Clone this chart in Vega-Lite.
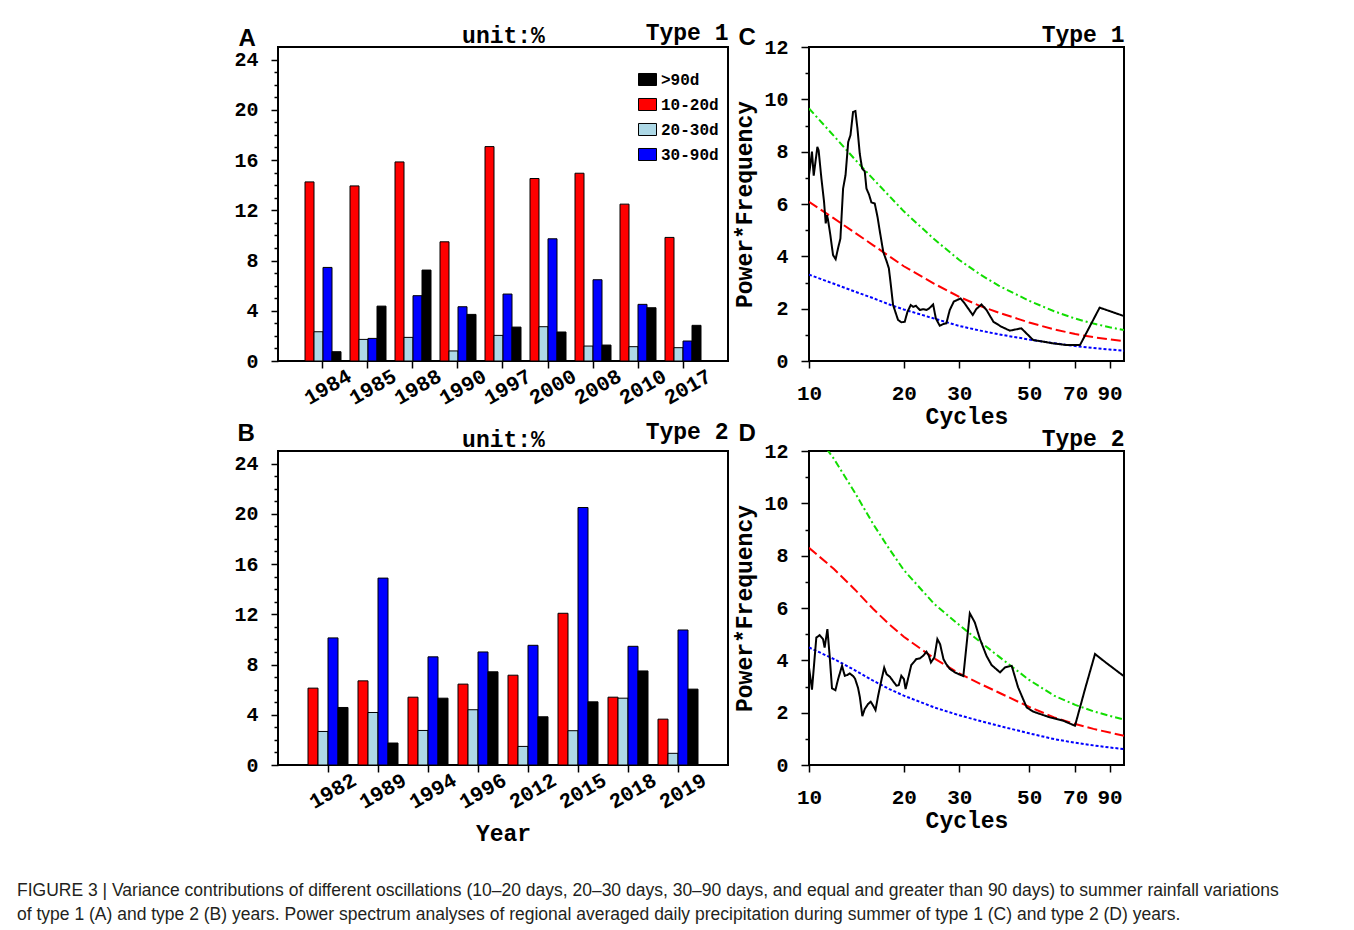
{
"$schema": "https://vega.github.io/schema/vega-lite/v6.json",
"padding": {"left": 17, "top": 20, "right": 10, "bottom": 10},
"background": "white",
"title": {
  "text": ["FIGURE 3 | Variance contributions of different oscillations (10–20 days, 20–30 days, 30–90 days, and equal and greater than 90 days) to summer rainfall variations", "of type 1 (A) and type 2 (B) years. Power spectrum analyses of regional averaged daily precipitation during summer of type 1 (C) and type 2 (D) years."],
  "orient": "bottom", "anchor": "start", "frame": "group", "dx": -261, "offset": 36,
  "font": "Liberation Sans", "fontSize": 17.5, "fontWeight": "normal", "color": "#231f20", "lineHeight": 24
},
"datasets": {
  "typeA": [
    {"year": "1984", "period": "10-20d", "value": 14.26}, {"year": "1984", "period": "20-30d", "value": 2.33}, {"year": "1984", "period": "30-90d", "value": 7.45}, {"year": "1984", "period": ">90d", "value": 0.74},
    {"year": "1985", "period": "10-20d", "value": 13.94}, {"year": "1985", "period": "20-30d", "value": 1.72}, {"year": "1985", "period": "30-90d", "value": 1.80}, {"year": "1985", "period": ">90d", "value": 4.37},
    {"year": "1988", "period": "10-20d", "value": 15.85}, {"year": "1988", "period": "20-30d", "value": 1.88}, {"year": "1988", "period": "30-90d", "value": 5.20}, {"year": "1988", "period": ">90d", "value": 7.24},
    {"year": "1990", "period": "10-20d", "value": 9.49}, {"year": "1990", "period": "20-30d", "value": 0.80}, {"year": "1990", "period": "30-90d", "value": 4.32}, {"year": "1990", "period": ">90d", "value": 3.71},
    {"year": "1997", "period": "10-20d", "value": 17.07}, {"year": "1997", "period": "20-30d", "value": 2.04}, {"year": "1997", "period": "30-90d", "value": 5.33}, {"year": "1997", "period": ">90d", "value": 2.70},
    {"year": "2000", "period": "10-20d", "value": 14.53}, {"year": "2000", "period": "20-30d", "value": 2.73}, {"year": "2000", "period": "30-90d", "value": 9.73}, {"year": "2000", "period": ">90d", "value": 2.31},
    {"year": "2008", "period": "10-20d", "value": 14.95}, {"year": "2008", "period": "20-30d", "value": 1.19}, {"year": "2008", "period": "30-90d", "value": 6.47}, {"year": "2008", "period": ">90d", "value": 1.27},
    {"year": "2010", "period": "10-20d", "value": 12.49}, {"year": "2010", "period": "20-30d", "value": 1.14}, {"year": "2010", "period": "30-90d", "value": 4.51}, {"year": "2010", "period": ">90d", "value": 4.24},
    {"year": "2017", "period": "10-20d", "value": 9.84}, {"year": "2017", "period": "20-30d", "value": 1.06}, {"year": "2017", "period": "30-90d", "value": 1.59}, {"year": "2017", "period": ">90d", "value": 2.84}
  ],
  "typeB": [
    {"year": "1982", "period": "10-20d", "value": 6.12}, {"year": "1982", "period": "20-30d", "value": 2.67}, {"year": "1982", "period": "30-90d", "value": 10.12}, {"year": "1982", "period": ">90d", "value": 4.58},
    {"year": "1989", "period": "10-20d", "value": 6.70}, {"year": "1989", "period": "20-30d", "value": 4.18}, {"year": "1989", "period": "30-90d", "value": 14.88}, {"year": "1989", "period": ">90d", "value": 1.75},
    {"year": "1994", "period": "10-20d", "value": 5.40}, {"year": "1994", "period": "20-30d", "value": 2.75}, {"year": "1994", "period": "30-90d", "value": 8.61}, {"year": "1994", "period": ">90d", "value": 5.32},
    {"year": "1996", "period": "10-20d", "value": 6.44}, {"year": "1996", "period": "20-30d", "value": 4.40}, {"year": "1996", "period": "30-90d", "value": 9.00}, {"year": "1996", "period": ">90d", "value": 7.42},
    {"year": "2012", "period": "10-20d", "value": 7.15}, {"year": "2012", "period": "20-30d", "value": 1.48}, {"year": "2012", "period": "30-90d", "value": 9.53}, {"year": "2012", "period": ">90d", "value": 3.84},
    {"year": "2015", "period": "10-20d", "value": 12.08}, {"year": "2015", "period": "20-30d", "value": 2.73}, {"year": "2015", "period": "30-90d", "value": 20.50}, {"year": "2015", "period": ">90d", "value": 5.03},
    {"year": "2018", "period": "10-20d", "value": 5.40}, {"year": "2018", "period": "20-30d", "value": 5.32}, {"year": "2018", "period": "30-90d", "value": 9.45}, {"year": "2018", "period": ">90d", "value": 7.49},
    {"year": "2019", "period": "10-20d", "value": 3.65}, {"year": "2019", "period": "20-30d", "value": 0.93}, {"year": "2019", "period": "30-90d", "value": 10.75}, {"year": "2019", "period": ">90d", "value": 6.04}
  ],
  "specC": [
    {"series": "p99", "cycles": 10, "value": 9.65}, {"series": "p99", "cycles": 12, "value": 8.6}, {"series": "p99", "cycles": 14, "value": 7.7}, {"series": "p99", "cycles": 16, "value": 6.95}, {"series": "p99", "cycles": 18, "value": 6.3}, {"series": "p99", "cycles": 20, "value": 5.72}, {"series": "p99", "cycles": 25, "value": 4.65}, {"series": "p99", "cycles": 30, "value": 3.86}, {"series": "p99", "cycles": 35, "value": 3.3}, {"series": "p99", "cycles": 40, "value": 2.88}, {"series": "p99", "cycles": 50, "value": 2.3}, {"series": "p99", "cycles": 60, "value": 1.9}, {"series": "p99", "cycles": 70, "value": 1.62}, {"series": "p99", "cycles": 80, "value": 1.43}, {"series": "p99", "cycles": 90, "value": 1.29}, {"series": "p99", "cycles": 100, "value": 1.18},
    {"series": "p95", "cycles": 10, "value": 6.08}, {"series": "p95", "cycles": 12, "value": 5.45}, {"series": "p95", "cycles": 14, "value": 4.9}, {"series": "p95", "cycles": 16, "value": 4.42}, {"series": "p95", "cycles": 18, "value": 4.0}, {"series": "p95", "cycles": 20, "value": 3.62}, {"series": "p95", "cycles": 25, "value": 2.95}, {"series": "p95", "cycles": 30, "value": 2.45}, {"series": "p95", "cycles": 35, "value": 2.1}, {"series": "p95", "cycles": 40, "value": 1.85}, {"series": "p95", "cycles": 50, "value": 1.47}, {"series": "p95", "cycles": 60, "value": 1.21}, {"series": "p95", "cycles": 70, "value": 1.03}, {"series": "p95", "cycles": 80, "value": 0.91}, {"series": "p95", "cycles": 90, "value": 0.83}, {"series": "p95", "cycles": 100, "value": 0.76},
    {"series": "red noise", "cycles": 10, "value": 3.3}, {"series": "red noise", "cycles": 12, "value": 2.95}, {"series": "red noise", "cycles": 14, "value": 2.65}, {"series": "red noise", "cycles": 16, "value": 2.4}, {"series": "red noise", "cycles": 18, "value": 2.16}, {"series": "red noise", "cycles": 20, "value": 1.97}, {"series": "red noise", "cycles": 25, "value": 1.62}, {"series": "red noise", "cycles": 30, "value": 1.34}, {"series": "red noise", "cycles": 35, "value": 1.16}, {"series": "red noise", "cycles": 40, "value": 1.02}, {"series": "red noise", "cycles": 50, "value": 0.82}, {"series": "red noise", "cycles": 60, "value": 0.68}, {"series": "red noise", "cycles": 70, "value": 0.57}, {"series": "red noise", "cycles": 80, "value": 0.5}, {"series": "red noise", "cycles": 90, "value": 0.44}, {"series": "red noise", "cycles": 100, "value": 0.39},
    {"series": "spectrum", "cycles": 10.0, "value": 7.1}, {"series": "spectrum", "cycles": 10.22, "value": 8.0}, {"series": "spectrum", "cycles": 10.35, "value": 7.08}, {"series": "spectrum", "cycles": 10.63, "value": 8.18}, {"series": "spectrum", "cycles": 10.73, "value": 8.05}, {"series": "spectrum", "cycles": 10.95, "value": 6.97}, {"series": "spectrum", "cycles": 11.16, "value": 6.1}, {"series": "spectrum", "cycles": 11.3, "value": 5.26}, {"series": "spectrum", "cycles": 11.41, "value": 5.57}, {"series": "spectrum", "cycles": 11.49, "value": 5.4}, {"series": "spectrum", "cycles": 11.69, "value": 4.81}, {"series": "spectrum", "cycles": 11.92, "value": 4.05}, {"series": "spectrum", "cycles": 12.15, "value": 3.89}, {"series": "spectrum", "cycles": 12.36, "value": 4.3}, {"series": "spectrum", "cycles": 12.58, "value": 4.68}, {"series": "spectrum", "cycles": 12.83, "value": 6.59}, {"series": "spectrum", "cycles": 13.06, "value": 7.1}, {"series": "spectrum", "cycles": 13.32, "value": 8.37}, {"series": "spectrum", "cycles": 13.54, "value": 8.63}, {"series": "spectrum", "cycles": 13.8, "value": 9.52}, {"series": "spectrum", "cycles": 14.04, "value": 9.55}, {"series": "spectrum", "cycles": 14.25, "value": 8.88}, {"series": "spectrum", "cycles": 14.49, "value": 7.93}, {"series": "spectrum", "cycles": 14.74, "value": 7.36}, {"series": "spectrum", "cycles": 15.03, "value": 7.25}, {"series": "spectrum", "cycles": 15.22, "value": 6.59}, {"series": "spectrum", "cycles": 15.51, "value": 6.36}, {"series": "spectrum", "cycles": 15.78, "value": 6.06}, {"series": "spectrum", "cycles": 16.17, "value": 6.02}, {"series": "spectrum", "cycles": 16.5, "value": 5.51}, {"series": "spectrum", "cycles": 16.79, "value": 4.94}, {"series": "spectrum", "cycles": 17.21, "value": 4.17}, {"series": "spectrum", "cycles": 17.66, "value": 3.79}, {"series": "spectrum", "cycles": 17.93, "value": 3.54}, {"series": "spectrum", "cycles": 18.19, "value": 2.9}, {"series": "spectrum", "cycles": 18.49, "value": 2.14}, {"series": "spectrum", "cycles": 19.17, "value": 1.57}, {"series": "spectrum", "cycles": 19.64, "value": 1.48}, {"series": "spectrum", "cycles": 20.13, "value": 1.5}, {"series": "spectrum", "cycles": 20.54, "value": 1.88}, {"series": "spectrum", "cycles": 21.04, "value": 2.14}, {"series": "spectrum", "cycles": 21.42, "value": 2.07}, {"series": "spectrum", "cycles": 21.85, "value": 2.11}, {"series": "spectrum", "cycles": 22.48, "value": 1.95}, {"series": "spectrum", "cycles": 23.04, "value": 1.98}, {"series": "spectrum", "cycles": 23.6, "value": 1.95}, {"series": "spectrum", "cycles": 24.06, "value": 2.01}, {"series": "spectrum", "cycles": 24.78, "value": 2.16}, {"series": "spectrum", "cycles": 25.27, "value": 1.63}, {"series": "spectrum", "cycles": 26.0, "value": 1.35}, {"series": "spectrum", "cycles": 26.66, "value": 1.41}, {"series": "spectrum", "cycles": 27.29, "value": 1.44}, {"series": "spectrum", "cycles": 27.98, "value": 1.95}, {"series": "spectrum", "cycles": 28.82, "value": 2.27}, {"series": "spectrum", "cycles": 29.77, "value": 2.35}, {"series": "spectrum", "cycles": 30.3, "value": 2.39}, {"series": "spectrum", "cycles": 31.2, "value": 2.2}, {"series": "spectrum", "cycles": 33.1, "value": 1.76}, {"series": "spectrum", "cycles": 34.0, "value": 1.99}, {"series": "spectrum", "cycles": 35.3, "value": 2.16}, {"series": "spectrum", "cycles": 36.6, "value": 1.95}, {"series": "spectrum", "cycles": 38.5, "value": 1.5}, {"series": "spectrum", "cycles": 40.8, "value": 1.31}, {"series": "spectrum", "cycles": 43.4, "value": 1.16}, {"series": "spectrum", "cycles": 47.2, "value": 1.25}, {"series": "spectrum", "cycles": 51.5, "value": 0.8}, {"series": "spectrum", "cycles": 55.5, "value": 0.74}, {"series": "spectrum", "cycles": 59.8, "value": 0.67}, {"series": "spectrum", "cycles": 65.6, "value": 0.61}, {"series": "spectrum", "cycles": 72.5, "value": 0.61}, {"series": "spectrum", "cycles": 83.7, "value": 2.04}, {"series": "spectrum", "cycles": 99.8, "value": 1.72}
  ],
  "specD": [
    {"series": "p99", "cycles": 10, "value": 13.0}, {"series": "p99", "cycles": 12, "value": 11.7}, {"series": "p99", "cycles": 14, "value": 10.4}, {"series": "p99", "cycles": 16, "value": 9.2}, {"series": "p99", "cycles": 18, "value": 8.25}, {"series": "p99", "cycles": 20, "value": 7.45}, {"series": "p99", "cycles": 25, "value": 6.15}, {"series": "p99", "cycles": 30, "value": 5.35}, {"series": "p99", "cycles": 35, "value": 4.7}, {"series": "p99", "cycles": 40, "value": 4.15}, {"series": "p99", "cycles": 50, "value": 3.25}, {"series": "p99", "cycles": 60, "value": 2.65}, {"series": "p99", "cycles": 70, "value": 2.3}, {"series": "p99", "cycles": 80, "value": 2.05}, {"series": "p99", "cycles": 90, "value": 1.88}, {"series": "p99", "cycles": 100, "value": 1.74},
    {"series": "p95", "cycles": 10, "value": 8.3}, {"series": "p95", "cycles": 12, "value": 7.49}, {"series": "p95", "cycles": 14, "value": 6.7}, {"series": "p95", "cycles": 16, "value": 5.96}, {"series": "p95", "cycles": 18, "value": 5.37}, {"series": "p95", "cycles": 20, "value": 4.9}, {"series": "p95", "cycles": 25, "value": 4.07}, {"series": "p95", "cycles": 30, "value": 3.5}, {"series": "p95", "cycles": 35, "value": 3.1}, {"series": "p95", "cycles": 40, "value": 2.77}, {"series": "p95", "cycles": 50, "value": 2.22}, {"series": "p95", "cycles": 60, "value": 1.82}, {"series": "p95", "cycles": 70, "value": 1.57}, {"series": "p95", "cycles": 80, "value": 1.38}, {"series": "p95", "cycles": 90, "value": 1.24}, {"series": "p95", "cycles": 100, "value": 1.12},
    {"series": "red noise", "cycles": 10, "value": 4.49}, {"series": "red noise", "cycles": 12, "value": 4.05}, {"series": "red noise", "cycles": 14, "value": 3.62}, {"series": "red noise", "cycles": 16, "value": 3.22}, {"series": "red noise", "cycles": 18, "value": 2.9}, {"series": "red noise", "cycles": 20, "value": 2.65}, {"series": "red noise", "cycles": 25, "value": 2.2}, {"series": "red noise", "cycles": 30, "value": 1.9}, {"series": "red noise", "cycles": 35, "value": 1.68}, {"series": "red noise", "cycles": 40, "value": 1.5}, {"series": "red noise", "cycles": 50, "value": 1.21}, {"series": "red noise", "cycles": 60, "value": 0.99}, {"series": "red noise", "cycles": 70, "value": 0.85}, {"series": "red noise", "cycles": 80, "value": 0.75}, {"series": "red noise", "cycles": 90, "value": 0.67}, {"series": "red noise", "cycles": 100, "value": 0.61},
    {"series": "spectrum", "cycles": 10.0, "value": 3.73}, {"series": "spectrum", "cycles": 10.22, "value": 2.88}, {"series": "spectrum", "cycles": 10.55, "value": 4.87}, {"series": "spectrum", "cycles": 10.81, "value": 4.96}, {"series": "spectrum", "cycles": 11.08, "value": 4.81}, {"series": "spectrum", "cycles": 11.21, "value": 4.49}, {"series": "spectrum", "cycles": 11.44, "value": 5.19}, {"series": "spectrum", "cycles": 11.63, "value": 4.17}, {"series": "spectrum", "cycles": 11.83, "value": 2.93}, {"series": "spectrum", "cycles": 12.13, "value": 2.86}, {"series": "spectrum", "cycles": 12.37, "value": 3.28}, {"series": "spectrum", "cycles": 12.73, "value": 3.79}, {"series": "spectrum", "cycles": 12.99, "value": 3.41}, {"series": "spectrum", "cycles": 13.24, "value": 3.44}, {"series": "spectrum", "cycles": 13.47, "value": 3.5}, {"series": "spectrum", "cycles": 13.8, "value": 3.4}, {"series": "spectrum", "cycles": 14.0, "value": 3.3}, {"series": "spectrum", "cycles": 14.31, "value": 2.95}, {"series": "spectrum", "cycles": 14.5, "value": 2.6}, {"series": "spectrum", "cycles": 14.77, "value": 1.87}, {"series": "spectrum", "cycles": 15.03, "value": 2.14}, {"series": "spectrum", "cycles": 15.4, "value": 2.33}, {"series": "spectrum", "cycles": 15.7, "value": 2.42}, {"series": "spectrum", "cycles": 15.98, "value": 2.27}, {"series": "spectrum", "cycles": 16.26, "value": 2.1}, {"series": "spectrum", "cycles": 16.58, "value": 2.65}, {"series": "spectrum", "cycles": 16.99, "value": 3.26}, {"series": "spectrum", "cycles": 17.33, "value": 3.72}, {"series": "spectrum", "cycles": 17.63, "value": 3.47}, {"series": "spectrum", "cycles": 18.07, "value": 3.37}, {"series": "spectrum", "cycles": 18.52, "value": 3.19}, {"series": "spectrum", "cycles": 18.95, "value": 3.03}, {"series": "spectrum", "cycles": 19.27, "value": 3.05}, {"series": "spectrum", "cycles": 19.64, "value": 3.41}, {"series": "spectrum", "cycles": 20.02, "value": 3.28}, {"series": "spectrum", "cycles": 20.26, "value": 2.9}, {"series": "spectrum", "cycles": 20.61, "value": 3.28}, {"series": "spectrum", "cycles": 21.12, "value": 3.82}, {"series": "spectrum", "cycles": 21.92, "value": 4.05}, {"series": "spectrum", "cycles": 22.47, "value": 4.07}, {"series": "spectrum", "cycles": 23.02, "value": 4.17}, {"series": "spectrum", "cycles": 23.6, "value": 4.33}, {"series": "spectrum", "cycles": 24.02, "value": 4.17}, {"series": "spectrum", "cycles": 24.38, "value": 3.92}, {"series": "spectrum", "cycles": 25.0, "value": 4.11}, {"series": "spectrum", "cycles": 25.56, "value": 4.81}, {"series": "spectrum", "cycles": 26.07, "value": 4.62}, {"series": "spectrum", "cycles": 26.72, "value": 4.05}, {"series": "spectrum", "cycles": 27.26, "value": 3.86}, {"series": "spectrum", "cycles": 28.0, "value": 3.67}, {"series": "spectrum", "cycles": 29.06, "value": 3.54}, {"series": "spectrum", "cycles": 30.3, "value": 3.44}, {"series": "spectrum", "cycles": 30.9, "value": 3.4}, {"series": "spectrum", "cycles": 32.4, "value": 5.8}, {"series": "spectrum", "cycles": 33.6, "value": 5.45}, {"series": "spectrum", "cycles": 34.9, "value": 4.81}, {"series": "spectrum", "cycles": 36.6, "value": 4.17}, {"series": "spectrum", "cycles": 37.98, "value": 3.82}, {"series": "spectrum", "cycles": 40.4, "value": 3.54}, {"series": "spectrum", "cycles": 41.9, "value": 3.73}, {"series": "spectrum", "cycles": 44.0, "value": 3.79}, {"series": "spectrum", "cycles": 46.1, "value": 2.97}, {"series": "spectrum", "cycles": 49.1, "value": 2.2}, {"series": "spectrum", "cycles": 51.5, "value": 2.04}, {"series": "spectrum", "cycles": 58.2, "value": 1.82}, {"series": "spectrum", "cycles": 64.2, "value": 1.69}, {"series": "spectrum", "cycles": 69.9, "value": 1.5}, {"series": "spectrum", "cycles": 75.2, "value": 2.9}, {"series": "spectrum", "cycles": 80.9, "value": 4.24}, {"series": "spectrum", "cycles": 88.1, "value": 3.89}, {"series": "spectrum", "cycles": 99.5, "value": 3.41}
  ]
},
"columns": 2,
"spacing": {"row": 90, "column": 81},
"bounds": "flush",
"concat": [
  {
    "width": 450, "height": 314,
    "data": {"name": "typeA"},
    "layer": [
      {
        "mark": {"type": "bar", "stroke": "black", "strokeWidth": 1},
        "encoding": {
          "x": {"field": "year", "type": "nominal", "scale": {"paddingInner": 0.2, "paddingOuter": 0.6},
                "axis": {"title": null, "labelAngle": -30, "labelAlign": "center", "labelBaseline": "middle", "labelPadding": 19, "labelOffset": 5, "tickSize": 7, "labelFontSize": 21}},
          "xOffset": {"field": "period", "type": "nominal", "scale": {"domain": ["10-20d", "20-30d", "30-90d", ">90d"], "paddingInner": 0, "paddingOuter": 0}},
          "y": {"field": "value", "type": "quantitative", "scale": {"domain": [0, 25], "nice": false},
                "axis": {"values": [0,1,2,3,4,5,6,7,8,9,10,11,12,13,14,15,16,17,18,19,20,21,22,23,24], "labelExpr": "datum.value % 4 === 0 ? datum.label : ''",
                         "tickSize": {"condition": {"test": "datum.value % 4 === 0", "value": 7}, "value": 4}, "labelPadding": 13,
                         "title": "A", "titleX": -40, "titleY": -2, "titleAngle": 0, "titleAlign": "left", "titleBaseline": "alphabetic", "titleFont": "Liberation Sans", "titleFontSize": 24}},
          "color": {"field": "period", "type": "nominal", "scale": {"domain": [">90d", "10-20d", "20-30d", "30-90d"], "range": ["#000000", "#ff0000", "#add8e6", "#0000ff"]},
                    "legend": {"orient": "none", "legendX": 360, "legendY": 23, "title": null, "symbolType": "M-1,-0.667H1V0.667H-1Z", "symbolSize": 324, "symbolStrokeColor": "black", "symbolStrokeWidth": 1, "labelFont": "Liberation Mono", "labelFontWeight": "bold", "labelFontSize": 16, "labelColor": "black", "labelOffset": 4, "rowPadding": 7, "padding": 0}}
        }
      },
      {
        "mark": {"type": "point", "opacity": 0},
        "encoding": {
          "x": {"field": "year", "type": "nominal", "axis": {"orient": "top", "labels": false, "ticks": false, "title": "Type 1", "titleX": 450, "titleY": -8, "titleAngle": 0, "titleAlign": "right", "titleBaseline": "alphabetic"}},
          "y": {"field": "value", "type": "quantitative", "axis": {"orient": "right", "labels": false, "ticks": false, "title": "unit:%", "titleX": -225, "titleY": -5, "titleAngle": 0, "titleAlign": "center", "titleBaseline": "alphabetic"}}
        }
      }
    ],
    "resolve": {"axis": {"x": "independent", "y": "independent"}}
  },
  {
    "width": 315, "height": 314,
    "data": {"name": "specC"},
    "layer": [
      {
        "mark": {"type": "line", "clip": true, "strokeWidth": 2},
        "encoding": {
          "x": {"field": "cycles", "type": "quantitative", "scale": {"type": "log", "domain": [10, 100], "nice": false},
                "axis": {"values": [10, 20, 30, 50, 70, 90], "format": "d", "tickSize": 7, "labelPadding": 14, "labelFontSize": 21, "title": "Cycles", "titleY": 62, "titleBaseline": "alphabetic", "titleAnchor": "middle"}},
          "y": {"field": "value", "type": "quantitative", "scale": {"domain": [0, 12], "nice": false},
                "axis": {"values": [0,0.5,1,1.5,2,2.5,3,3.5,4,4.5,5,5.5,6,6.5,7,7.5,8,8.5,9,9.5,10,10.5,11,11.5,12], "format": "d", "labelExpr": "datum.value % 2 === 0 ? datum.label : ''",
                         "tickSize": {"condition": {"test": "datum.value % 2 === 0", "value": 8}, "value": 4}, "labelPadding": 13,
                         "title": "Power*Frequency", "titleX": -65, "titleY": 157, "titleAngle": -90, "titleAlign": "center", "titleBaseline": "middle"}},
          "color": {"field": "series", "type": "nominal", "scale": {"domain": ["spectrum", "p99", "p95", "red noise"], "range": ["#000000", "#11dd00", "#ff0000", "#0000ff"]}, "legend": null},
          "strokeDash": {"field": "series", "type": "nominal", "scale": {"domain": ["spectrum", "p99", "p95", "red noise"], "range": [[1, 0], [7, 3, 2, 3], [10, 4], [3, 2]]}, "legend": null}
        }
      },
      {
        "mark": {"type": "point", "opacity": 0},
        "encoding": {
          "x": {"field": "cycles", "type": "quantitative", "axis": {"orient": "top", "labels": false, "ticks": false, "title": "Type 1", "titleX": 315, "titleY": -6, "titleAngle": 0, "titleAlign": "right", "titleBaseline": "alphabetic"}},
          "y": {"field": "value", "type": "quantitative", "axis": {"orient": "right", "labels": false, "ticks": false, "title": "C", "titleX": -386, "titleY": -3, "titleAngle": 0, "titleAlign": "left", "titleBaseline": "alphabetic", "titleFont": "Liberation Sans", "titleFontSize": 24}}
        }
      }
    ],
    "resolve": {"axis": {"x": "independent", "y": "independent"}}
  },
  {
    "width": 450, "height": 314,
    "data": {"name": "typeB"},
    "layer": [
      {
        "mark": {"type": "bar", "stroke": "black", "strokeWidth": 1},
        "encoding": {
          "x": {"field": "year", "type": "nominal", "scale": {"paddingInner": 0.2, "paddingOuter": 0.6},
                "axis": {"title": "Year", "titleY": 75, "titleBaseline": "alphabetic", "labelAngle": -30, "labelAlign": "center", "labelBaseline": "middle", "labelPadding": 19, "labelOffset": 5, "tickSize": 7, "labelFontSize": 21}},
          "xOffset": {"field": "period", "type": "nominal", "scale": {"domain": ["10-20d", "20-30d", "30-90d", ">90d"], "paddingInner": 0, "paddingOuter": 0}},
          "y": {"field": "value", "type": "quantitative", "scale": {"domain": [0, 25], "nice": false},
                "axis": {"values": [0,1,2,3,4,5,6,7,8,9,10,11,12,13,14,15,16,17,18,19,20,21,22,23,24], "labelExpr": "datum.value % 4 === 0 ? datum.label : ''",
                         "tickSize": {"condition": {"test": "datum.value % 4 === 0", "value": 7}, "value": 4}, "labelPadding": 13,
                         "title": "B", "titleX": -41, "titleY": -11, "titleAngle": 0, "titleAlign": "left", "titleBaseline": "alphabetic", "titleFont": "Liberation Sans", "titleFontSize": 24}},
          "color": {"field": "period", "type": "nominal", "scale": {"domain": [">90d", "10-20d", "20-30d", "30-90d"], "range": ["#000000", "#ff0000", "#add8e6", "#0000ff"]}, "legend": null}
        }
      },
      {
        "mark": {"type": "point", "opacity": 0},
        "encoding": {
          "x": {"field": "year", "type": "nominal", "axis": {"orient": "top", "labels": false, "ticks": false, "title": "Type 2", "titleX": 450, "titleY": -13, "titleAngle": 0, "titleAlign": "right", "titleBaseline": "alphabetic"}},
          "y": {"field": "value", "type": "quantitative", "axis": {"orient": "right", "labels": false, "ticks": false, "title": "unit:%", "titleX": -225, "titleY": -5, "titleAngle": 0, "titleAlign": "center", "titleBaseline": "alphabetic"}}
        }
      }
    ],
    "resolve": {"axis": {"x": "independent", "y": "independent"}}
  },
  {
    "width": 315, "height": 314,
    "data": {"name": "specD"},
    "layer": [
      {
        "mark": {"type": "line", "clip": true, "strokeWidth": 2},
        "encoding": {
          "x": {"field": "cycles", "type": "quantitative", "scale": {"type": "log", "domain": [10, 100], "nice": false},
                "axis": {"values": [10, 20, 30, 50, 70, 90], "format": "d", "tickSize": 7, "labelPadding": 14, "labelFontSize": 21, "title": "Cycles", "titleY": 62, "titleBaseline": "alphabetic", "titleAnchor": "middle"}},
          "y": {"field": "value", "type": "quantitative", "scale": {"domain": [0, 12], "nice": false},
                "axis": {"values": [0,0.5,1,1.5,2,2.5,3,3.5,4,4.5,5,5.5,6,6.5,7,7.5,8,8.5,9,9.5,10,10.5,11,11.5,12], "format": "d", "labelExpr": "datum.value % 2 === 0 ? datum.label : ''",
                         "tickSize": {"condition": {"test": "datum.value % 2 === 0", "value": 8}, "value": 4}, "labelPadding": 13,
                         "title": "Power*Frequency", "titleX": -65, "titleY": 157, "titleAngle": -90, "titleAlign": "center", "titleBaseline": "middle"}},
          "color": {"field": "series", "type": "nominal", "scale": {"domain": ["spectrum", "p99", "p95", "red noise"], "range": ["#000000", "#11dd00", "#ff0000", "#0000ff"]}, "legend": null},
          "strokeDash": {"field": "series", "type": "nominal", "scale": {"domain": ["spectrum", "p99", "p95", "red noise"], "range": [[1, 0], [7, 3, 2, 3], [10, 4], [3, 2]]}, "legend": null}
        }
      },
      {
        "mark": {"type": "point", "opacity": 0},
        "encoding": {
          "x": {"field": "cycles", "type": "quantitative", "axis": {"orient": "top", "labels": false, "ticks": false, "title": "Type 2", "titleX": 315, "titleY": -6, "titleAngle": 0, "titleAlign": "right", "titleBaseline": "alphabetic"}},
          "y": {"field": "value", "type": "quantitative", "axis": {"orient": "right", "labels": false, "ticks": false, "title": "D", "titleX": -386, "titleY": -11, "titleAngle": 0, "titleAlign": "left", "titleBaseline": "alphabetic", "titleFont": "Liberation Sans", "titleFontSize": 24}}
        }
      }
    ],
    "resolve": {"axis": {"x": "independent", "y": "independent"}}
  }
],
"resolve": {"scale": {"color": "independent", "strokeDash": "independent", "xOffset": "independent", "x": "independent", "y": "independent"}, "legend": {"color": "independent"}},
"config": {
  "font": "Liberation Mono",
  "view": {"stroke": "black", "strokeWidth": 2},
  "axis": {"domain": false, "grid": false, "labelFont": "Liberation Mono", "labelFontWeight": "bold", "labelFontSize": 20, "labelColor": "black", "labelFlush": false, "labelOverlap": false,
           "titleFont": "Liberation Mono", "titleFontWeight": "bold", "titleFontSize": 23, "titleColor": "black", "tickColor": "black", "tickWidth": 1.5}
}
}
